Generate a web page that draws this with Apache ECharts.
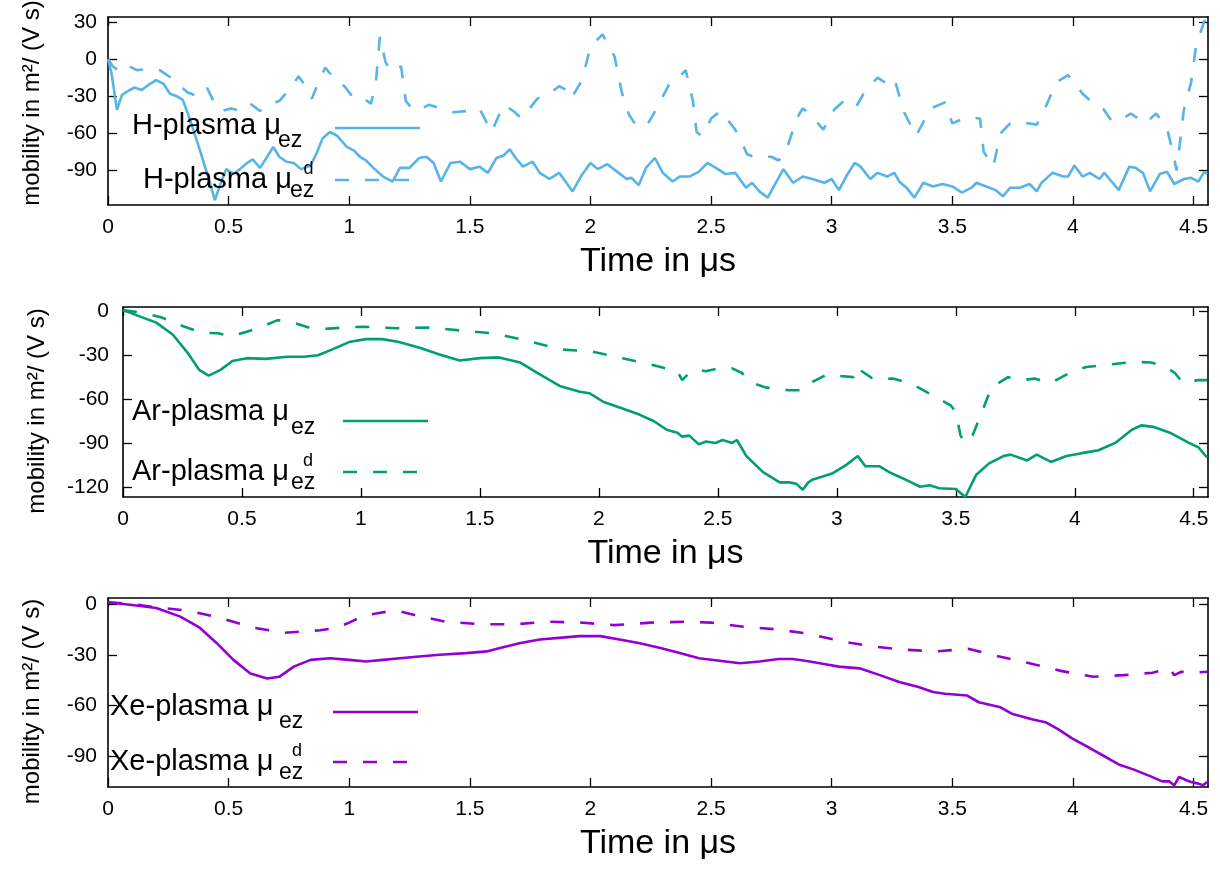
<!DOCTYPE html>
<html><head><meta charset="utf-8">
<script src="https://cdn.jsdelivr.net/npm/echarts@6/dist/echarts.min.js"></script>
<style>html,body{margin:0;padding:0;background:#fff}#c{width:1220px;height:869px}</style>
</head><body><div id="c"></div>
<script>
// ---- tick labels ----
const xTicks = [0, 0.5, 1, 1.5, 2, 2.5, 3, 3.5, 4, 4.5];
const yTicksH = [30, 0, -30, -60, -90];
const yTicksAr = [0, -30, -60, -90, -120];
const yTicksXe = [0, -30, -60, -90];

// ---- series values: [time in µs, mobility] ----
const hMuEz = [[0,0],[0.015,-12],[0.037,-41],[0.058,-29],[0.09,-25],[0.11,-23],[0.14,-25],[0.174,-20],[0.2,-17],[0.23,-20],[0.257,-28],[0.285,-30],[0.31,-33],[0.34,-49],[0.38,-73],[0.41,-92],[0.443,-114],[0.47,-99],[0.49,-89],[0.52,-93],[0.547,-89],[0.57,-85],[0.6,-81],[0.63,-88],[0.66,-79],[0.685,-71],[0.71,-79],[0.74,-83],[0.77,-84],[0.8,-89],[0.84,-86],[0.865,-76],[0.89,-64],[0.92,-59],[0.95,-62],[0.99,-71],[1.02,-74],[1.044,-79],[1.07,-82],[1.1,-88],[1.14,-95],[1.18,-99],[1.21,-88],[1.25,-88],[1.29,-80],[1.32,-79],[1.35,-84],[1.38,-99],[1.42,-84],[1.46,-83],[1.5,-89],[1.54,-87],[1.575,-92],[1.61,-80],[1.64,-78],[1.665,-73],[1.69,-80],[1.72,-87],[1.76,-83],[1.79,-92],[1.83,-97],[1.87,-92],[1.9,-100],[1.926,-107],[1.96,-95],[2.0,-84],[2.03,-89],[2.07,-85],[2.11,-91],[2.15,-97],[2.17,-96],[2.2,-102],[2.23,-88],[2.267,-80],[2.3,-92],[2.34,-99],[2.37,-95],[2.41,-95],[2.45,-91],[2.485,-84],[2.52,-88],[2.56,-93],[2.6,-92],[2.645,-104],[2.67,-100],[2.7,-107],[2.735,-112],[2.76,-103],[2.8,-89],[2.84,-100],[2.88,-95],[2.92,-97],[2.97,-100],[3.0,-97],[3.03,-106],[3.06,-95],[3.095,-84],[3.12,-87],[3.16,-97],[3.19,-92],[3.23,-95],[3.26,-92],[3.28,-99],[3.31,-104],[3.343,-112],[3.38,-100],[3.42,-103],[3.46,-101],[3.5,-103],[3.54,-108],[3.58,-104],[3.6,-100],[3.64,-103],[3.68,-106],[3.71,-111],[3.74,-104],[3.78,-104],[3.82,-101],[3.85,-107],[3.87,-100],[3.915,-92],[3.96,-95],[3.98,-95],[4.006,-86],[4.04,-95],[4.07,-92],[4.11,-97],[4.13,-92],[4.16,-99],[4.19,-106],[4.234,-87],[4.26,-88],[4.29,-92],[4.32,-107],[4.36,-93],[4.39,-91],[4.42,-101],[4.46,-97],[4.49,-96],[4.52,-99],[4.545,-91],[4.556,-93]];
const hMuEzD = [[0,0],[0.02,-6],[0.05,-10],[0.08,-5],[0.12,-9],[0.17,-8],[0.215,-9],[0.26,-15],[0.33,-27],[0.37,-30],[0.41,-23],[0.44,-35],[0.47,-42],[0.51,-40],[0.55,-42],[0.59,-36],[0.63,-42],[0.67,-36],[0.71,-34],[0.75,-25],[0.79,-14],[0.82,-22],[0.845,-32],[0.87,-20],[0.9,-7],[0.94,-16],[0.98,-22],[1.02,-32],[1.06,-32],[1.09,-36],[1.11,-20],[1.127,18],[1.15,-2],[1.17,-10],[1.195,-8],[1.215,-6],[1.235,-34],[1.26,-40],[1.28,-42],[1.33,-37],[1.38,-40],[1.43,-43],[1.49,-42],[1.54,-40],[1.59,-59],[1.64,-37],[1.68,-42],[1.715,-48],[1.78,-32],[1.83,-28],[1.87,-22],[1.9,-25],[1.92,-32],[1.965,-17],[2.0,10],[2.05,20],[2.1,2],[2.13,-27],[2.16,-45],[2.18,-51],[2.23,-55],[2.28,-38],[2.33,-19],[2.37,-14],[2.395,-9],[2.425,-34],[2.44,-59],[2.46,-62],[2.475,-59],[2.5,-48],[2.54,-42],[2.6,-57],[2.65,-77],[2.69,-80],[2.72,-79],[2.75,-79],[2.78,-82],[2.81,-75],[2.855,-48],[2.88,-40],[2.91,-44],[2.965,-57],[3.01,-41],[3.05,-34],[3.1,-39],[3.135,-27],[3.19,-15],[3.23,-20],[3.26,-16],[3.3,-43],[3.35,-62],[3.41,-40],[3.47,-35],[3.5,-52],[3.56,-47],[3.615,-48],[3.63,-75],[3.67,-87],[3.7,-60],[3.74,-52],[3.78,-51],[3.85,-53],[3.88,-42],[3.93,-19],[3.98,-13],[4.04,-28],[4.08,-35],[4.125,-40],[4.16,-50],[4.2,-49],[4.24,-44],[4.27,-48],[4.3,-52],[4.345,-44],[4.39,-56],[4.415,-76],[4.43,-90],[4.46,-41],[4.49,-19],[4.51,10],[4.545,31],[4.556,31]];
const arMuEz = [[0,1],[0.07,-3.4],[0.14,-7.7],[0.21,-16],[0.27,-28],[0.32,-40],[0.36,-44],[0.41,-40],[0.46,-34],[0.52,-32],[0.6,-32.5],[0.69,-31],[0.76,-31],[0.82,-30],[0.88,-26],[0.95,-21],[1.02,-19],[1.09,-19],[1.16,-21],[1.25,-25],[1.33,-29.5],[1.415,-33.6],[1.5,-32],[1.58,-31.5],[1.67,-35],[1.75,-43],[1.835,-51],[1.92,-55],[1.96,-56],[2.02,-62],[2.09,-66],[2.17,-70.6],[2.23,-75],[2.285,-81],[2.33,-83],[2.35,-85.7],[2.38,-85],[2.42,-91],[2.45,-89],[2.49,-90],[2.52,-88],[2.56,-90],[2.58,-88],[2.62,-99],[2.69,-110],[2.76,-117],[2.8,-117],[2.83,-118],[2.857,-122],[2.88,-117],[2.9,-115],[2.94,-113],[2.98,-111],[3.04,-105],[3.088,-99],[3.12,-106],[3.18,-106],[3.22,-110],[3.26,-113],[3.3,-116],[3.35,-120],[3.39,-119],[3.43,-121],[3.5,-121.5],[3.54,-127],[3.585,-112],[3.64,-104],[3.7,-99],[3.73,-98],[3.8,-102],[3.84,-98],[3.9,-103],[3.965,-99],[4.03,-97],[4.1,-95],[4.17,-90],[4.24,-81],[4.28,-78],[4.33,-79],[4.4,-83],[4.48,-90],[4.52,-93],[4.556,-100]];
const arMuEzD = [[0,1],[0.08,-1],[0.16,-4],[0.25,-10],[0.33,-14.5],[0.4,-15],[0.45,-17],[0.52,-14],[0.59,-10],[0.65,-6],[0.71,-7.5],[0.78,-11],[0.85,-12],[0.93,-11],[1.01,-10.5],[1.08,-11],[1.15,-11.5],[1.28,-11],[1.415,-13],[1.555,-15],[1.7,-20],[1.835,-26],[1.97,-27.5],[2.1,-32],[2.235,-37],[2.33,-41],[2.35,-47],[2.38,-42],[2.42,-40],[2.45,-41],[2.5,-39],[2.56,-39],[2.6,-42],[2.645,-49],[2.7,-52],[2.745,-53],[2.8,-54],[2.86,-54],[2.9,-48],[2.96,-43],[3.0,-44],[3.07,-45],[3.08,-38],[3.155,-46.5],[3.235,-46],[3.28,-48],[3.33,-51],[3.41,-58],[3.48,-64.5],[3.5,-69],[3.52,-85],[3.54,-90],[3.57,-85],[3.6,-73],[3.65,-52],[3.72,-45],[3.78,-47],[3.83,-46],[3.9,-49],[3.99,-41],[4.05,-38],[4.14,-36.5],[4.25,-34.5],[4.32,-35],[4.37,-37],[4.42,-42],[4.455,-49],[4.52,-47],[4.556,-47]];
const xeMuEz = [[0,1],[0.1,-0.6],[0.2,-2.4],[0.3,-7.5],[0.38,-14],[0.45,-23],[0.52,-33],[0.59,-41],[0.66,-44],[0.71,-43],[0.77,-37],[0.84,-33],[0.92,-32],[1.0,-33],[1.07,-34],[1.14,-33],[1.21,-32],[1.29,-31],[1.375,-30],[1.485,-29],[1.57,-28],[1.625,-26],[1.71,-23],[1.79,-21],[1.87,-20],[1.955,-19],[2.04,-19],[2.12,-21],[2.2,-23],[2.29,-26],[2.37,-29],[2.45,-32],[2.535,-33.5],[2.62,-35],[2.7,-34],[2.78,-32.5],[2.84,-32.5],[2.91,-34],[2.95,-35],[3.03,-37],[3.115,-38],[3.2,-42],[3.28,-46],[3.36,-49],[3.42,-52],[3.47,-53],[3.56,-54],[3.61,-58],[3.7,-61],[3.75,-65],[3.83,-68],[3.89,-70],[3.94,-74],[4.0,-79.6],[4.07,-85],[4.14,-90.6],[4.19,-94.7],[4.25,-97.6],[4.32,-101.6],[4.37,-104.7],[4.4,-104.7],[4.42,-107],[4.44,-102],[4.47,-104],[4.49,-105],[4.52,-106],[4.54,-107],[4.556,-105]];
const xeMuEzD = [[0,1],[0.1,0],[0.19,-1.8],[0.33,-4],[0.46,-8],[0.6,-14],[0.73,-17],[0.88,-15.5],[0.95,-14],[1.0,-11],[1.06,-7],[1.135,-5],[1.2,-4],[1.27,-6.5],[1.4,-10.5],[1.55,-12],[1.69,-12],[1.82,-10.5],[1.96,-11],[2.1,-12.5],[2.25,-11],[2.39,-10.5],[2.5,-11],[2.635,-13.5],[2.77,-15],[2.9,-17.5],[3.04,-22],[3.165,-25],[3.3,-27],[3.43,-28],[3.565,-26.5],[3.695,-31],[3.82,-35],[3.95,-39.5],[4.085,-43],[4.21,-42],[4.33,-40.6],[4.4,-38],[4.42,-42],[4.45,-40],[4.5,-40.6],[4.556,-40]];

const FONT = '"Liberation Sans", Arial, Helvetica, sans-serif';
const C_H = '#56b4e9', C_AR = '#009e73', C_XE = '#9400d3';
const DASH = [14, 16];

const grids = [
  {left: 108, right: 12, top: 17, height: 188},
  {left: 123, right: 12, top: 307, height: 190},
  {left: 108, right: 12, top: 598, height: 189}
];
const yRanges = [[-118, 34], [-127, 3], [-108, 3.5]];
const yTickSets = [yTicksH, yTicksAr, yTicksXe];
const yNameGap = [64, 74, 64];
const yNamePad = [[0, 0, 0, 16], [0, 18, 0, 0], [0, 18, 0, 0]];

const lineCol = '#000';
const xAxes = [], yAxes = [];
grids.forEach((g, i) => {
  const common = {
    type: 'value', gridIndex: i, min: 0, max: 4.56,
    axisLine: {show: true, onZero: false, lineStyle: {color: lineCol, width: 1.6}},
    axisTick: {show: true, inside: true, length: 9, customValues: xTicks, lineStyle: {color: lineCol, width: 1.3}},
    splitLine: {show: false}
  };
  xAxes.push(Object.assign({}, common, {
    position: 'bottom',
    axisLabel: {show: true, customValues: xTicks, color: '#000', fontSize: 21, fontFamily: FONT, margin: 12},
    name: 'Time in μs', nameLocation: 'middle', nameGap: 40,
    nameTextStyle: {fontSize: 34, color: '#000', fontFamily: FONT}
  }));
  xAxes.push(Object.assign({}, common, {position: 'top', axisLabel: {show: false}}));
  const ycommon = {
    type: 'value', gridIndex: i, min: yRanges[i][0], max: yRanges[i][1],
    axisLine: {show: true, onZero: false, lineStyle: {color: lineCol, width: 1.6}},
    axisTick: {show: true, inside: true, length: 9, customValues: yTickSets[i], lineStyle: {color: lineCol, width: 1.3}},
    splitLine: {show: false}
  };
  yAxes.push(Object.assign({}, ycommon, {
    position: 'left',
    axisLabel: {show: true, customValues: yTickSets[i], color: '#000', fontSize: 21, fontFamily: FONT, margin: i === 1 ? 14 : 11},
    name: 'mobility in m²/ (V s)', nameLocation: 'middle', nameRotate: 90, nameGap: yNameGap[i],
    nameTextStyle: {fontSize: 24, color: '#000', fontFamily: FONT, padding: yNamePad[i]}
  }));
  yAxes.push(Object.assign({}, ycommon, {position: 'right', axisLabel: {show: false}}));
});

function mkSeries(name, data, gi, color, dashed) {
  return {
    name, type: 'line', data, xAxisIndex: gi * 2, yAxisIndex: gi * 2,
    showSymbol: false, symbol: 'none', smooth: false, clip: true,
    lineStyle: {color, width: 2.6, type: dashed ? DASH : 'solid'},
    itemStyle: {color}
  };
}
const series = [
  mkSeries('H-plasma μez', hMuEz, 0, C_H, false),
  mkSeries('H-plasma μdez', hMuEzD, 0, C_H, true),
  mkSeries('Ar-plasma μez', arMuEz, 1, C_AR, false),
  mkSeries('Ar-plasma μdez', arMuEzD, 1, C_AR, true),
  mkSeries('Xe-plasma μez', xeMuEz, 2, C_XE, false),
  mkSeries('Xe-plasma μdez', xeMuEzD, 2, C_XE, true)
];

function base(fs) { return {fontSize: fs, fontFamily: FONT, color: '#000'}; }
// first (solid) legend entry: main text + subscript
function richFirst(wm, hm, ws, hs, pad) {
  return {
    m: Object.assign(base(29), {width: wm, height: hm, lineHeight: hm, verticalAlign: 'top', align: 'left'}),
    s: Object.assign(base(23), {width: ws, height: hs, lineHeight: hs, verticalAlign: 'bottom', align: 'left'}),
    p: Object.assign(base(10), {width: pad, height: 48, lineHeight: 48, align: 'left'})
  };
}
// second (dashed) legend entry: main text + stacked super/subscript
function richSecond(lead, wm, ws, pad) {
  return {
    l: Object.assign(base(10), {width: lead, height: 44, lineHeight: 44, align: 'left'}),
    m: Object.assign(base(29), {width: wm, height: 29, lineHeight: 29, verticalAlign: 'middle', align: 'left'}),
    z: Object.assign(base(23), {width: 0, height: 22, lineHeight: 22, verticalAlign: 'bottom', align: 'left'}),
    d: Object.assign(base(18), {width: ws, height: 22, lineHeight: 22, verticalAlign: 'top', align: 'center'}),
    p: Object.assign(base(10), {width: pad, height: 44, lineHeight: 44, align: 'left'})
  };
}
function mkLegend(name, left, top, text, rich) {
  return {
    show: true, data: [name], left, top, orient: 'vertical', align: 'right',
    padding: 0, itemGap: 0, itemWidth: 85, itemHeight: 14, selectedMode: false,
    formatter: () => text,
    textStyle: {color: '#000', fontFamily: FONT, fontSize: 29, rich},
    itemStyle: {opacity: 0, color: 'rgba(0,0,0,0)', borderWidth: 0},
    lineStyle: {width: 2.6}
  };
}
const legends = [
  mkLegend('H-plasma μez', 132, 104, '{m|H-plasma μ}{s|ez}{p| }', richFirst(146, 44, 35, 22, 17)),
  mkLegend('H-plasma μdez', 132, 158, '{l| }{m|H-plasma μ}{z|ez}{d|d}{p| }', richSecond(11, 147, 37, 3)),
  mkLegend('Ar-plasma μez', 132, 397, '{m|Ar-plasma μ}{s|ez}{p| }', richFirst(159, 30, 32, 34, 15)),
  mkLegend('Ar-plasma μdez', 132, 450, '{m|Ar-plasma μ}{z|ez}{d|d}{p| }', richSecond(0, 159, 34, 13)),
  mkLegend('Xe-plasma μez', 110, 688, '{m|Xe-plasma μ}{s|ez}{p| }', richFirst(169, 38, 34, 28, 15)),
  mkLegend('Xe-plasma μdez', 110, 740, '{m|Xe-plasma μ}{z|ez}{d|d}{p| }', richSecond(0, 169, 36, 13))
];

const chart = echarts.init(document.getElementById('c'), null, {renderer: 'canvas'});
chart.setOption({
  animation: false,
  backgroundColor: '#fff',
  textStyle: {fontFamily: FONT},
  grid: grids.map(g => Object.assign({containLabel: false, outerBoundsMode: 'none'}, g)),
  xAxis: xAxes,
  yAxis: yAxes,
  legend: legends,
  series
});
</script>
</body></html>
